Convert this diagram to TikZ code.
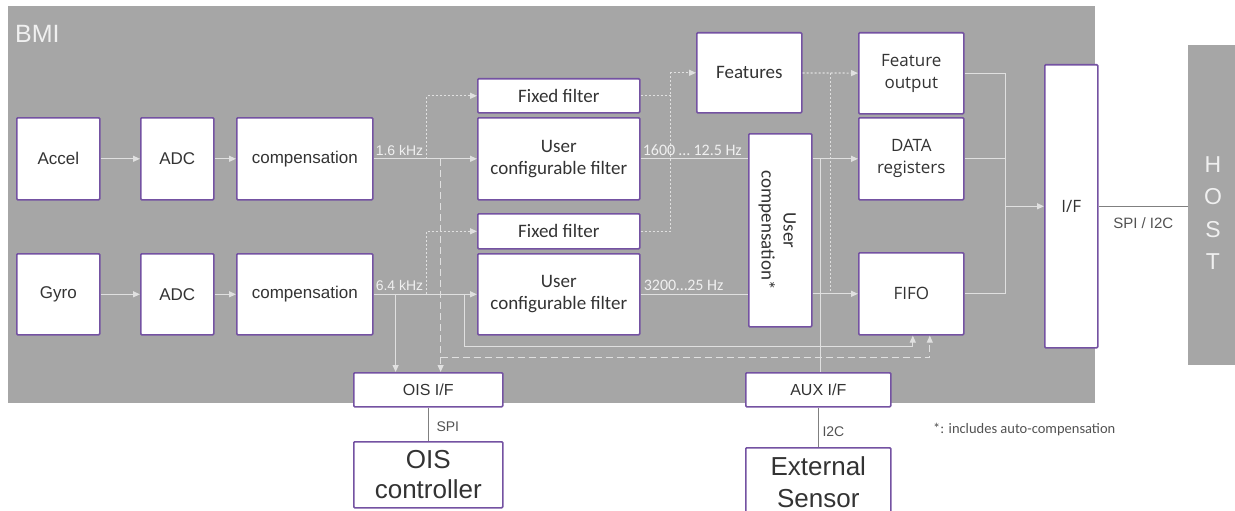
\documentclass[tikz,border=0pt]{standalone}
\usepackage{fontspec}
\setmainfont{Liberation Sans}
\newfontfamily\calf{Carlito}
\newfontfamily\opsf{Open Sans}
\usetikzlibrary{arrows.meta,calc}
\definecolor{bg}{HTML}{A6A6A6}
\definecolor{ln}{HTML}{E0E0E0}
\definecolor{pur}{HTML}{7452A2}
\definecolor{txt}{HTML}{333333}
\definecolor{dk}{HTML}{808080}
\definecolor{lbl}{HTML}{F0F0F0}
\begin{document}
\begin{tikzpicture}[x=1pt,y=-1pt,
 box/.style={draw=pur,line width=1.6pt,fill=white,inner sep=0pt,text=txt,align=center,anchor=north west,rounded corners=1pt},
 lfont/.style={font=\fontsize{17}{20}\selectfont},
 cfont/.style={font=\calf\fontsize{19}{22}\selectfont},
 ofont/.style={font=\opsf\fontsize{17}{22}\selectfont},
 sig/.style={draw=ln,line width=1.2pt},
 arrowhd/.style={-{Triangle[length=7pt,width=6pt]}},
 dotl/.style={sig,dash pattern=on 2pt off 2pt},
 dashl/.style={sig,dash pattern=on 7pt off 4pt},
 outl/.style={draw=dk,line width=1.2pt},
 flab/.style={text=lbl,inner sep=1pt,anchor=south west},
 olab/.style={text=txt!85,inner sep=0pt,anchor=west}]
\useasboundingbox (0,0) rectangle (1235,511);
% backgrounds
\node[fill=bg,inner sep=0pt,anchor=north west,minimum width=1087pt,minimum height=397pt] (bmi) at (8,6) {};
\node[text=lbl,anchor=base west,inner sep=0pt,font=\fontsize{25}{30}\selectfont] (bmilabel) at (15,43) {BMI};
\node[fill=bg,inner sep=0pt,anchor=north west,minimum width=50pt,minimum height=320pt] (host) at (1188,45) {};
\node[text=lbl,align=center,font=\fontsize{23}{32.5}\selectfont] (hostlabel) at (1213,213) {H\\O\\S\\T};
% boxes
\node[box,lfont,minimum width=83pt,minimum height=82pt] (accel) at (16,117) {Accel};
\node[box,lfont,minimum width=73pt,minimum height=82pt] (adc1) at (140,117) {ADC};
\node[box,lfont,minimum width=136pt,minimum height=82pt] (comp1) at (236,117) {compensation};
\node[box,lfont,minimum width=83pt,minimum height=81pt] (gyro) at (16,253) {Gyro};
\node[box,lfont,minimum width=73pt,minimum height=81pt] (adc2) at (140,253) {ADC};
\node[box,lfont,minimum width=136pt,minimum height=81pt] (comp2) at (236,253) {compensation};
\node[box,cfont,minimum width=162pt,minimum height=34pt] (ff1) at (477,78) {Fixed filter};
\node[box,cfont,minimum width=162pt,minimum height=82pt] (ucf1) at (477,117) {User\\configurable filter};
\node[box,cfont,minimum width=162pt,minimum height=35pt] (ff2) at (477,213) {Fixed filter};
\node[box,cfont,minimum width=162pt,minimum height=81pt] (ucf2) at (477,253) {User\\configurable filter};
\node[box,cfont,minimum width=105pt,minimum height=80pt] (feat) at (696,32) {Features};
\node[box,minimum width=63pt,minimum height=193pt] (ucomp) at (748,133) {};
\node[cfont,text=txt,align=center,rotate=-90,inner sep=0pt] (ucomplabel) at ($(ucomp.center)+(-3,0)$) {User\\compensation*};
\node[box,ofont,minimum width=105pt,minimum height=81pt] (fout) at (858,32) {Feature\\output};
\node[box,ofont,minimum width=105pt,minimum height=82pt] (dreg) at (858,117) {DATA\\registers};
\node[box,ofont,minimum width=105pt,minimum height=82pt] (fifo) at (858,252) {FIFO};
\node[box,ofont,minimum width=53pt,minimum height=283pt] (iface) at (1044,64) {I/F};
\node[box,font=\fontsize{16}{19}\selectfont,minimum width=149pt,minimum height=34pt] (ois) at (353,372) {OIS I/F};
\node[box,font=\fontsize{26}{30}\selectfont,minimum width=149pt,minimum height=66pt] (oisc) at (353,441) {OIS\\controller};
\node[box,font=\fontsize{16}{19}\selectfont,minimum width=145pt,minimum height=34pt] (aux) at (745,372) {AUX I/F};
\node[box,font=\fontsize{26}{32}\selectfont,minimum width=145pt,minimum height=68pt] (exts) at (745,447) {External\\Sensor};
% main chains
\draw[sig,arrowhd] (accel) -- (adc1);
\draw[sig,arrowhd] (adc1) -- (comp1);
\draw[sig,arrowhd] (comp1) -- (ucf1);
\draw[sig,arrowhd] (gyro) -- (adc2);
\draw[sig,arrowhd] (adc2) -- (comp2);
\draw[sig,arrowhd] (comp2) -- (ucf2);
% branch points
\coordinate (a1) at ($(comp1.east)+(53,0)$);
\coordinate (a2) at ($(comp1.east)+(67,0)$);
\coordinate (g0) at ($(comp2.east)+(22,0)$);
\coordinate (g1) at ($(comp2.east)+(53,0)$);
\coordinate (g2) at ($(comp2.east)+(91,0)$);
\coordinate (fA) at ($(fifo.south)+(18.5,0)$);
\coordinate (fG) at ($(fifo.south)+(1.5,0)$);
\coordinate (yA) at ($(fA)+(0,22)$);
\coordinate (yG) at ($(fG)+(0,11)$);
\draw[dotl,arrowhd] (a1) |- (ff1.west);
\draw[dotl,arrowhd] (g1) |- (ff2.west);
\draw[dashl,arrowhd] (a2) -- (a2 |- ois.north);
\draw[dashl,arrowhd] (a2 |- yA) -| (fA);
\draw[sig,arrowhd] (g0) -- (g0 |- ois.north);
\draw[sig,arrowhd] (g2) |- (yG) -- (fG);
% filter outputs
\draw[sig] (ucf1.east) -- (ucf1.east -| ucomp.west);
\draw[sig,arrowhd] (ucomp.east |- dreg) -- (dreg.west);
\draw[sig] (ucf2.east) -- (ucf2.east -| ucomp.west);
\draw[sig,arrowhd] (ucomp.east |- fifo) -- (fifo.west);
\coordinate (fj) at ($(ff1.east)+(30,0)$);
\draw[dotl,arrowhd] (ff1.east) -- (fj) |- (feat.west);
\draw[dotl] (ff2.east) -| (fj);
\draw[dotl,arrowhd] (feat) -- (fout);
\coordinate (fb) at ($(feat.east)+(28,0)$);
\draw[dotl] (fb) -- (fb |- fifo);
% aux
\coordinate (ax) at ($(aux.north)+(2.5,0)$);
\draw[sig] (ax) -- (ax |- dreg);
% outputs to I/F
\coordinate (ob) at ($(fout.east)+(41,0)$);
\draw[sig] (fout.east) -- (ob) -- (ob |- fifo) -- (fifo.east);
\draw[sig] (dreg.east) -- (dreg.east -| ob);
\draw[sig,arrowhd] (ob |- iface) -- (iface.west);
% external links
\draw[outl] (iface.east) -- (iface.east -| host.west);
\draw[outl] (ois) -- (oisc);
\draw[outl] (aux) -- (exts);
% labels
\node[flab,font=\fontsize{14}{16}\selectfont] (l16) at ($(comp1.east)+(1,-2)$) {1.6 kHz};
\node[flab,font=\fontsize{14}{16}\selectfont] (l64) at ($(comp2.east)+(1,-2)$) {6.4 kHz};
\node[flab,font=\calf\fontsize{16}{18}\selectfont] (l1600) at ($(ucf1.east)+(1,-2)$) {1600 … 12.5 Hz};
\node[flab,font=\calf\fontsize{16}{18}\selectfont] (l3200) at ($(ucf2.east)+(2,-2)$) {3200…25 Hz};
\node[olab,font=\fontsize{14}{16}\selectfont] (spi) at ($(ois.south)+(8,19)$) {SPI};
\node[olab,font=\fontsize{14}{16}\selectfont] (i2c) at ($(aux.south)+(4,24)$) {I2C};
\node[olab,font=\calf\fontsize{14.5}{16}\selectfont] (note) at (933,430) {*: includes auto-compensation};
\node[text=txt!85,inner sep=0pt,font=\fontsize{15}{18}\selectfont] (spii2c) at ($(iface.east)!0.5!(iface.east -| host.west)+(0,17)$) {SPI / I2C};
\end{tikzpicture}
\end{document}
